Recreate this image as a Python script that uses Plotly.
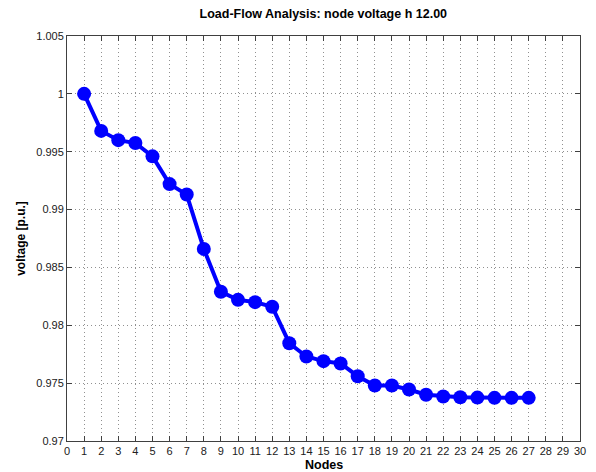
import plotly.graph_objects as go

nodes = list(range(1, 28))
voltage = [1.0000, 0.9968, 0.9960, 0.99575, 0.9946, 0.9922, 0.9913, 0.9866,
           0.9829, 0.9822, 0.9820, 0.9816, 0.97845, 0.9773, 0.9769, 0.9767,
           0.9756, 0.9748, 0.9748, 0.97445, 0.9740, 0.97385, 0.97378, 0.97375,
           0.97373, 0.97373, 0.97373]
x_ticks = list(range(0, 31))
y_ticks = [0.97, 0.975, 0.98, 0.985, 0.99, 0.995, 1.0, 1.005]
y_tick_text = ["0.97", "0.975", "0.98", "0.985", "0.99", "0.995", "1", "1.005"]

fig = go.Figure()
fig.add_trace(go.Scatter(
    x=nodes, y=voltage, mode="lines+markers",
    line=dict(color="#0000ff", width=4),
    marker=dict(color="#0000ff", size=14),
    cliponaxis=False,
))

axis_common = dict(
    showline=True, linecolor="#404040", linewidth=1, mirror="ticks",
    ticks="inside", ticklen=5, tickcolor="#404040",
    showgrid=True, gridcolor="#909090", griddash="1px,3px", gridwidth=1,
    zeroline=False, automargin=False,
    tickfont=dict(family="Liberation Sans, Arial", size=11, color="#202020"),
)

fig.update_layout(
    width=596, height=472,
    margin=dict(l=67, r=16, t=36, b=31),
    paper_bgcolor="white", plot_bgcolor="white",
    showlegend=False,
    title=dict(text="<b>Load-Flow Analysis: node voltage h 12.00</b>",
               x=0.5425, xanchor="center", y=0.972, yanchor="middle",
               font=dict(family="Liberation Sans, Arial", size=12.5, color="black")),
    xaxis=dict(range=[0, 30], tickvals=x_ticks, ticktext=[str(v) for v in x_ticks],
               **axis_common),
    yaxis=dict(range=[0.97, 1.005], tickvals=y_ticks, ticktext=y_tick_text,
               title=dict(text="<b>voltage [p.u.]</b>", standoff=8,
                          font=dict(family="Liberation Sans, Arial", size=12, color="black")),
               **axis_common),
    annotations=[dict(text="<b>Nodes</b>", xref="paper", yref="paper",
                      x=0.5, y=-0.038, xanchor="center", yanchor="top",
                      showarrow=False,
                      font=dict(family="Liberation Sans, Arial", size=12.5, color="black"))],
)

fig.write_html("out.html")
